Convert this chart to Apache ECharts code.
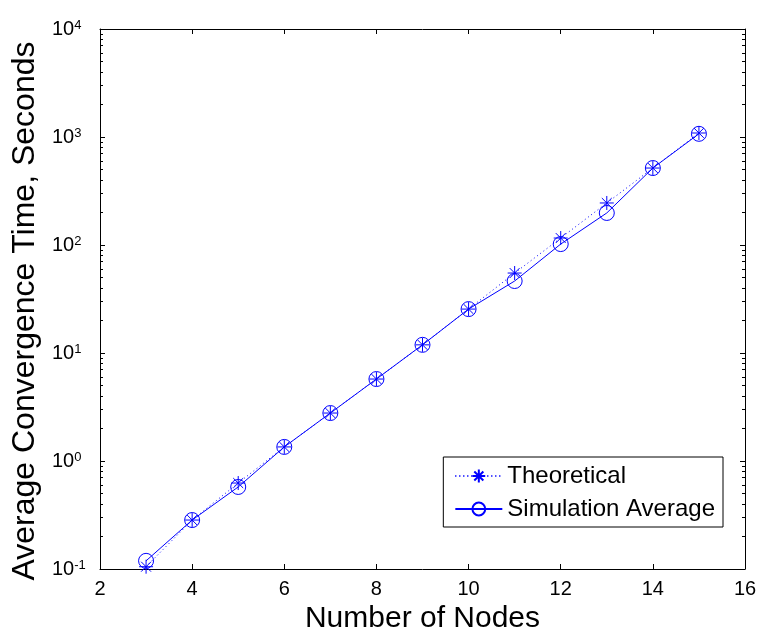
<!DOCTYPE html>
<html>
<head>
<meta charset="utf-8">
<script src="https://cdn.jsdelivr.net/npm/echarts@6/dist/echarts.min.js"></script>
<style>
  html, body { margin: 0; padding: 0; background: #fff; }
  #chart { width: 762px; height: 633px; }
</style>
</head>
<body>
<div id="chart"></div>
<script>
// Number of nodes in the network
const nodes = [3, 4, 5, 6, 7, 8, 9, 10, 11, 12, 13, 14, 15];
// Average convergence time (s), analytical prediction
const theoretical = [0.105, 0.284, 0.625, 1.35, 2.78, 5.74, 11.9, 25.5, 55, 116, 245, 516, 1089];
// Average convergence time (s), mean over simulation runs
const simulation = [0.119, 0.284, 0.575, 1.35, 2.78, 5.74, 11.9, 25.5, 46.4, 102, 198, 516, 1070];
// Decade ticks on the log axis
const decadeTicks = [0.1, 1, 10, 100, 1000, 10000];
const decadeExp = { '0.1': '-1', '1': '0', '10': '1', '100': '2', '1000': '3', '10000': '4' };

const minorTicks = [];
for (let d = 0.1; d < 10000; d *= 10) {
  for (let k = 2; k <= 9; k++) minorTicks.push(+(d * k).toPrecision(3));
}

const FONT = 'Liberation Sans';
const BLUE = '#0000ff';
// asterisk marker: plus sign overlaid with a cross
const STAR = 'path://M0,-1L0,1M-1,0L1,0M-0.707,-0.707L0.707,0.707M-0.707,0.707L0.707,-0.707';

const chart = echarts.init(document.getElementById('chart'), null, { renderer: 'canvas' });

function logAxis(extra) {
  return Object.assign({
    type: 'log', logBase: 10, min: 0.1, max: 10000,
    axisLine: { show: true, onZero: false, lineStyle: { color: '#000', width: 1 } },
    splitLine: { show: false },
    axisLabel: { show: false },
    axisTick: { show: true, inside: true, length: 5, lineStyle: { color: '#000' }, customValues: decadeTicks }
  }, extra);
}

const option = {
  backgroundColor: '#fff',
  animation: false,
  grid: { left: 100, top: 29, right: 17, bottom: 64, containLabel: false, outerBoundsMode: 'none' },
  legend: {
    right: 39, top: 457,
    orient: 'vertical',
    backgroundColor: '#fff',
    borderColor: '#000', borderWidth: 1,
    padding: [7, 8, 6, 11],
    itemGap: 9,
    itemWidth: 47, itemHeight: 16,
    textStyle: { fontFamily: FONT, fontSize: 24, color: '#000' },
    data: ['Theoretical', 'Simulation Average']
  },
  xAxis: [
    {
      type: 'value', min: 2, max: 16, interval: 2,
      name: 'Number of Nodes', nameLocation: 'middle', nameGap: 35,
      nameTextStyle: { fontFamily: FONT, fontSize: 30, color: '#000' },
      axisLine: { show: true, onZero: false, lineStyle: { color: '#000' } },
      axisTick: { show: true, inside: true, length: 5, lineStyle: { color: '#000' } },
      axisLabel: { fontFamily: FONT, fontSize: 20, color: '#000', margin: 10 },
      splitLine: { show: false }
    },
    {
      type: 'value', min: 2, max: 16, interval: 2, position: 'top',
      axisLine: { show: true, onZero: false, lineStyle: { color: '#000' } },
      axisTick: { show: true, inside: true, length: 5, lineStyle: { color: '#000' } },
      axisLabel: { show: false },
      splitLine: { show: false }
    }
  ],
  yAxis: [
    logAxis({
      position: 'left',
      name: 'Average Convergence Time, Seconds', nameLocation: 'middle', nameGap: 59,
      nameTextStyle: { fontFamily: FONT, fontSize: 32, color: '#000', padding: [0, 24, 0, 0] },
      axisLabel: {
        show: true, margin: 48, align: 'left', customValues: decadeTicks,
        formatter: v => '{b|10}{s|' + decadeExp[String(+v.toPrecision(3))] + '}',
        rich: {
          b: { fontFamily: FONT, fontSize: 20, color: '#000', lineHeight: 20, verticalAlign: 'bottom' },
          s: { fontFamily: FONT, fontSize: 13, color: '#000', lineHeight: 13, verticalAlign: 'top', padding: [0, 0, 12, 0] }
        }
      }
    }),
    logAxis({ position: 'right' }),
    logAxis({ position: 'left', axisLine: { show: false },
      axisTick: { show: true, inside: true, length: 3, lineStyle: { color: '#000' }, customValues: minorTicks } }),
    logAxis({ position: 'right', axisLine: { show: false },
      axisTick: { show: true, inside: true, length: 3, lineStyle: { color: '#000' }, customValues: minorTicks } })
  ],
  series: [
    {
      name: 'Theoretical', type: 'line',
      data: nodes.map((n, i) => [n, theoretical[i]]),
      symbol: STAR, symbolSize: 14,
      itemStyle: { color: 'transparent', borderColor: BLUE, borderWidth: 1 },
      lineStyle: { color: BLUE, width: 1, type: [1, 3] },
      z: 3
    },
    {
      name: 'Simulation Average', type: 'line',
      data: nodes.map((n, i) => [n, simulation[i]]),
      symbol: 'circle', symbolSize: 15,
      itemStyle: { color: 'transparent', borderColor: BLUE, borderWidth: 1 },
      lineStyle: { color: BLUE, width: 1 },
      z: 2
    }
  ]
};

chart.setOption(option);
</script>
</body>
</html>
